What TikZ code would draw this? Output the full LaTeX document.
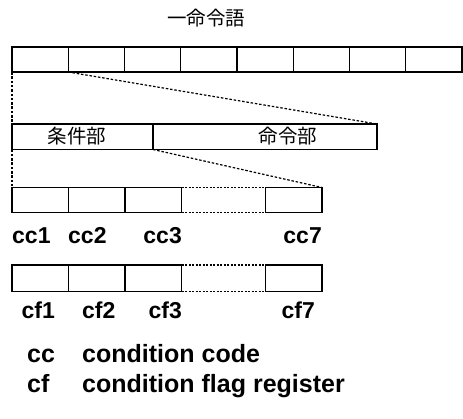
\documentclass[tikz,border=0pt]{standalone}
\usepackage{fontspec}
\setmainfont{Liberation Sans}
\newfontfamily\jpfont{Noto Sans CJK JP}
\begin{document}
\begin{tikzpicture}[x=1pt,y=-1pt,
  cell/.style={draw, line width=1.3pt, minimum height=25pt, inner sep=0pt, outer sep=0pt, anchor=north west},
  gap/.style={line width=1.2pt, dash pattern=on 2pt off 1.5pt},
  conn/.style={line width=1.2pt, dash pattern=on 2.5pt off 1.8pt},
  lab/.style={font=\fontsize{23}{23}\selectfont\bfseries, inner sep=0pt},
  leg/.style={font=\fontsize{25}{25}\selectfont\bfseries, inner sep=0pt, anchor=base west},
  jp/.style={font=\fontsize{19.5}{19.5}\jpfont, inner sep=0pt}]
\useasboundingbox (0,0) rectangle (463,418);
% title
\node[jp] (title) at (206,18.5) {一命令語};
% top row: 8 cells
\foreach \i in {1,...,8} {
  \node[cell, minimum width=56.25pt] (t\i) at ({12+(\i-1)*56.25},47) {};
}
% middle row
\node[cell, minimum width=141pt, minimum height=25.5pt] (mc) at (12,124) {};
\node[cell, minimum width=224pt, minimum height=25.5pt] (mi) at (153,124) {};
\node[jp] (mcl) at (77,136) {条件部};
\node[jp] (mil) at (288,136) {命令部};
% connectors from top row
\draw[conn] (t1.south west) -- (mc.north west);
\draw[conn] (t1.south east) -- (mi.north east);
% cc row
\node[cell, minimum width=56.5pt] (c1) at (12,187.5) {};
\node[cell, minimum width=56.5pt] (c2) at (68.5,187.5) {};
\node[cell, minimum width=56.5pt] (c3) at (125,187.5) {};
\node[cell, minimum width=56.5pt] (c7) at (265.5,187.5) {};
\draw[gap] (c3.north east) -- (c7.north west);
\draw[gap] (c3.south east) -- (c7.south west);
\draw[conn] (mc.south west) -- (c1.north west);
\draw[conn] (mc.south east) -- (c7.north east);
% cc labels
\node[lab, anchor=base west] (cc1) at (12,243) {cc1};
\node[lab, anchor=base west] (cc2) at (68,243) {cc2};
\node[lab, anchor=base east] (cc3) at (182,243) {cc3};
\node[lab, anchor=base east] (cc7) at (322,243) {cc7};
% cf row
\node[cell, minimum width=56.5pt, minimum height=26.5pt] (f1) at (12,265) {};
\node[cell, minimum width=56.5pt, minimum height=26.5pt] (f2) at (68.5,265) {};
\node[cell, minimum width=56.5pt, minimum height=26.5pt] (f3) at (125,265) {};
\node[cell, minimum width=56.5pt, minimum height=26.5pt] (f7) at (265.5,265) {};
\draw[gap] (f3.north east) -- (f7.north west);
\draw[gap] (f3.south east) -- (f7.south west);
% cf labels
\node[lab, anchor=base west] (cf1) at (21.5,318) {cf1};
\node[lab, anchor=base west] (cf2) at (82,318) {cf2};
\node[lab, anchor=base east] (cf3) at (182,318) {cf3};
\node[lab, anchor=base east] (cf7) at (315,318) {cf7};
% legend
\node[leg] (lcc) at (27,362) {cc};
\node[leg] (lccd) at (82,362) {condition code};
\node[leg] (lcf) at (27,392) {cf};
\node[leg] (lcfd) at (82,392) {condition flag register};
\end{tikzpicture}
\end{document}
